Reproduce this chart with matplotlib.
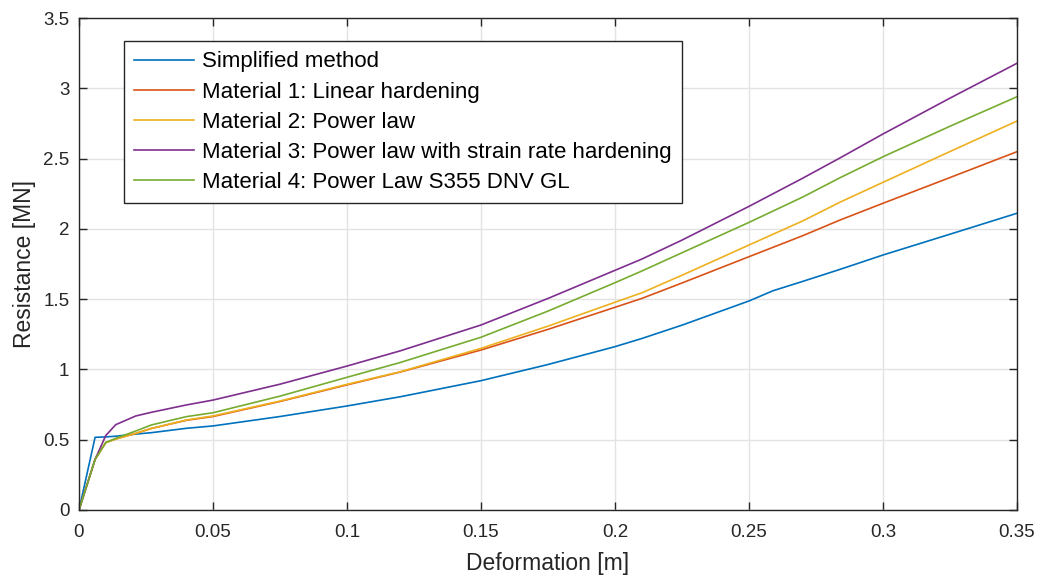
import numpy as np
import matplotlib.pyplot as plt

plt.rcParams['font.family'] = ['Liberation Sans', 'DejaVu Sans']

# deformation [m], shared by all curves
deformation = [0, 0.006, 0.010, 0.0137, 0.0212, 0.027, 0.04, 0.05, 0.075, 0.1, 0.12,
               0.15, 0.175, 0.2, 0.21, 0.225, 0.25, 0.259, 0.27, 0.284, 0.3, 0.325, 0.35]

# resistance [MN]
simplified = [0, 0.517, 0.520, 0.525, 0.540, 0.550, 0.581, 0.598, 0.665, 0.740, 0.806,
              0.920, 1.035, 1.162, 1.220, 1.315, 1.487, 1.560, 1.626, 1.712, 1.814, 1.962, 2.111]
mat1_linear = [0, 0.36, 0.48, 0.505, 0.545, 0.580, 0.638, 0.665, 0.772, 0.890, 0.982,
               1.138, 1.285, 1.442, 1.505, 1.615, 1.802, 1.869, 1.951, 2.063, 2.182, 2.365, 2.549]
mat2_power = [0, 0.36, 0.48, 0.505, 0.545, 0.580, 0.640, 0.669, 0.775, 0.894, 0.984,
              1.150, 1.308, 1.478, 1.545, 1.670, 1.885, 1.962, 2.056, 2.190, 2.331, 2.550, 2.767]
mat3_rate = [0, 0.36, 0.53, 0.607, 0.669, 0.695, 0.747, 0.782, 0.895, 1.024, 1.133,
             1.316, 1.505, 1.705, 1.785, 1.920, 2.160, 2.250, 2.360, 2.505, 2.675, 2.930, 3.178]
mat4_s355 = [0, 0.36, 0.48, 0.510, 0.562, 0.605, 0.664, 0.692, 0.810, 0.944, 1.050,
             1.229, 1.415, 1.617, 1.700, 1.830, 2.046, 2.127, 2.226, 2.364, 2.513, 2.730, 2.940]

labels = ["Simplified method",
          "Material 1: Linear hardening",
          "Material 2: Power law",
          "Material 3: Power law with strain rate hardening",
          "Material 4: Power Law S355 DNV GL"]
colors = ["#0072BD", "#D95319", "#EDB120", "#7E2F8E", "#77AC30"]

fig = plt.figure(figsize=(10.37, 5.79), dpi=100)
ax = fig.add_axes([79/1037, 1 - 510/579, (1017 - 79)/1037, (510 - 18)/579])

for y, lab, c in zip([simplified, mat1_linear, mat2_power, mat3_rate, mat4_s355], labels, colors):
    ax.plot(deformation, y, color=c, lw=1.2, label=lab)

ax.set_xlim(0, 0.35)
ax.set_ylim(0, 3.5)
ax.set_xticks(np.arange(0, 0.351, 0.05))
ax.set_xticklabels(["0", "0.05", "0.1", "0.15", "0.2", "0.25", "0.3", "0.35"])
ax.set_yticks(np.arange(0, 3.51, 0.5))
ax.set_yticklabels(["0", "0.5", "1", "1.5", "2", "2.5", "3", "3.5"])
ax.grid(True, color="#e3e3e3", lw=1)
ax.set_axisbelow(True)
ax.tick_params(direction="in", top=True, right=True, length=6, width=1,
               color="#262626", labelsize=13.5, labelcolor="#262626")
ax.tick_params(axis="x", pad=10)
ax.tick_params(axis="y", pad=7)
for s in ax.spines.values():
    s.set_color("#262626")
    s.set_linewidth(1)

ax.set_xlabel("Deformation [m]", fontsize=16.5, color="#262626", labelpad=8)
ax.set_ylabel("Resistance [MN]", fontsize=16.5, color="#262626", labelpad=5)

leg = ax.legend(loc="upper left", bbox_to_anchor=(124/1037, 1 - 41/579),
                bbox_transform=fig.transFigure, fontsize=16, frameon=True,
                fancybox=False, edgecolor="#262626", framealpha=1,
                handlelength=2.7, handletextpad=0.32, labelspacing=0.41,
                borderpad=0.47, borderaxespad=0)
leg.get_frame().set_linewidth(1)

fig.savefig("out.png", dpi=100)
